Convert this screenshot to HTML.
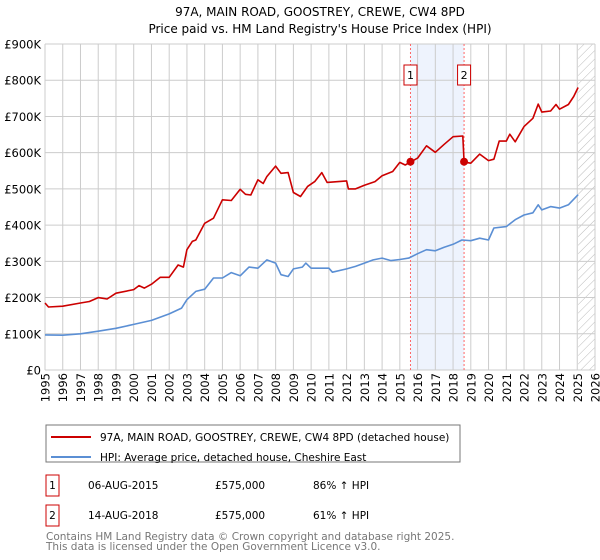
<!DOCTYPE html>
<html><head><meta charset="utf-8"><style>
body{margin:0;background:#fff;font-family:"DejaVu Sans","Liberation Sans",sans-serif;}
#wrap{position:relative;width:600px;height:560px;overflow:hidden}
</style></head><body><div id="wrap">
<svg id="chart" width="600" height="560" xmlns="http://www.w3.org/2000/svg" font-family="DejaVu Sans, Liberation Sans, sans-serif">
<text x="320" y="16" text-anchor="middle" font-size="12" fill="#000">97A, MAIN ROAD, GOOSTREY, CREWE, CW4 8PD</text>
<text x="320" y="33" text-anchor="middle" font-size="12" fill="#000">Price paid vs. HM Land Registry's House Price Index (HPI)</text>
<defs><pattern id="hatch" width="6" height="6" patternUnits="userSpaceOnUse" patternTransform="rotate(45)"><line x1="0" y1="0" x2="0" y2="6" stroke="#bbb" stroke-width="1"/></pattern></defs>
<g id="grid"></g><g id="marks"></g><g id="axes"></g>
<g>
<rect x="46" y="425" width="414" height="37" fill="#fff" stroke="#777"/>
<line x1="51" y1="437" x2="91" y2="437" stroke="#cc0000" stroke-width="2"/>
<text x="100" y="441" font-size="10.5">97A, MAIN ROAD, GOOSTREY, CREWE, CW4 8PD (detached house)</text>
<line x1="51" y1="457" x2="91" y2="457" stroke="#5b8fd4" stroke-width="2"/>
<text x="100" y="461" font-size="10.5">HPI: Average price, detached house, Cheshire East</text>
</g>
<g font-size="10.5">
<rect x="46" y="475" width="13" height="21" fill="#fff" stroke="#cc0000"/>
<text x="52.5" y="489" text-anchor="middle">1</text>
<text x="88" y="489">06-AUG-2015</text>
<text x="215" y="489">£575,000</text>
<text x="313" y="489">86% ↑ HPI</text>
<rect x="46" y="505" width="13" height="21" fill="#fff" stroke="#cc0000"/>
<text x="52.5" y="519" text-anchor="middle">2</text>
<text x="88" y="519">14-AUG-2018</text>
<text x="215" y="519">£575,000</text>
<text x="313" y="519">61% ↑ HPI</text>
</g>
<text x="46" y="540" font-size="10.5" fill="#777">Contains HM Land Registry data © Crown copyright and database right 2025.</text>
<text x="46" y="550" font-size="10.5" fill="#777">This data is licensed under the Open Government Licence v3.0.</text>
</svg></div>
<script>
const yearTicks=[1995,1996,1997,1998,1999,2000,2001,2002,2003,2004,2005,2006,2007,2008,2009,2010,2011,2012,2013,2014,2015,2016,2017,2018,2019,2020,2021,2022,2023,2024,2025,2026];
const valueTicks=[0,100,200,300,400,500,600,700,800,900];
const valueLabels=["£0","£100K","£200K","£300K","£400K","£500K","£600K","£700K","£800K","£900K"];
const hpiYears=[1995,1996,1997,1998,1999,2000,2001,2002,2002.7,2003,2003.5,2004,2004.5,2005,2005.5,2006,2006.5,2007,2007.5,2008,2008.3,2008.7,2009,2009.5,2009.7,2010,2011,2011.2,2012,2012.5,2013,2013.5,2014,2014.5,2015,2015.5,2016,2016.5,2017,2017.5,2018,2018.5,2019,2019.5,2020,2020.3,2021,2021.5,2022,2022.5,2022.8,2023,2023.5,2024,2024.5,2025.05];
const hpiValues=[97,96,100,107,115,126,137,155,171,194,217,223,254,254,269,260,284,281,304,295,263,258,279,284,295,281,281,270,279,286,295,304,309,302,305,309,321,332,329,339,347,359,357,364,359,392,396,415,428,434,456,442,451,447,456,484];
const propYears=[1995,1995.2,1996,1997,1997.5,1998,1998.5,1999,2000,2000.3,2000.6,2001,2001.5,2002,2002.5,2002.8,2003,2003.3,2003.5,2004,2004.5,2005,2005.5,2006,2006.3,2006.6,2007,2007.3,2007.5,2008,2008.3,2008.7,2009,2009.4,2009.8,2010.2,2010.6,2010.9,2012,2012.1,2012.5,2013,2013.6,2014,2014.6,2015,2015.3,2015.6,2016,2016.5,2017,2017.5,2018,2018.55,2018.62,2019,2019.5,2020,2020.3,2020.6,2021,2021.2,2021.5,2022,2022.5,2022.8,2023,2023.5,2023.8,2024,2024.5,2024.8,2025.05];
const propValues=[185,174,176,185,189,200,196,212,222,233,226,237,256,256,290,284,332,355,359,405,419,470,468,499,485,483,525,515,534,563,543,545,490,479,507,520,545,518,522,500,500,510,520,536,548,573,566,574,585,619,601,623,644,646,574,571,596,578,582,632,632,651,630,672,695,734,712,715,733,720,733,755,780];
const saleYears=[2015.6,2018.62];
const saleValues=[575,575];
const saleLabels=["1","2"];
const NS="http://www.w3.org/2000/svg";
const L=45,R=595,T=44,B=370,X0=1995,X1=2026,VMAX=900;
const xs=y=>L+(y-X0)/(X1-X0)*(R-L);
const ys=v=>B-v/VMAX*(B-T);
function mk(tag,attrs,parent){const e=document.createElementNS(NS,tag);for(const k in attrs)e.setAttribute(k,attrs[k]);parent.appendChild(e);return e;}
const grid=document.getElementById('grid'),marks=document.getElementById('marks'),axes=document.getElementById('axes');
let band=mk('rect',{x:xs(saleYears[0]),y:T,width:xs(saleYears[1])-xs(saleYears[0]),height:B-T,fill:'#eef3fd'},grid);


let hatch=mk('rect',{x:xs(2025.05),y:T,width:R-xs(2025.05),height:B-T,fill:'url(#hatch)'},grid);


yearTicks.forEach(y=>{let l=mk('line',{x1:xs(y),x2:xs(y),y1:T,y2:B,stroke:'#cccccc','stroke-width':1},grid);


let t=mk('text',{x:0,y:0,'font-size':11.5,'text-anchor':'end',transform:`translate(${xs(y)+4.5},${B+3}) rotate(-90)`},axes);t.textContent=y;

});
valueTicks.forEach((v,i)=>{let l=mk('line',{x1:L,x2:R,y1:ys(v),y2:ys(v),stroke:'#cccccc','stroke-width':1},grid);


let t=mk('text',{x:L-4,y:ys(v)+4.5,'font-size':11.5,'text-anchor':'end'},axes);t.textContent=valueLabels[i];

});
saleYears.forEach((y,i)=>{let l=mk('line',{x1:xs(y),x2:xs(y),y1:T,y2:B,stroke:'#ff6666','stroke-width':1,'stroke-dasharray':'2,2'},grid);


let r=mk('rect',{x:xs(y)-6.5,y:65,width:13,height:20,fill:'#fff',stroke:'#cc0000'},grid);


let t=mk('text',{x:xs(y),y:79,'font-size':11,'text-anchor':'middle'},grid);t.textContent=saleLabels[i];

});
function line(xa,va,color,name){let d=xa.map((y,i)=>(i?'L':'M')+xs(y).toFixed(1)+','+ys(va[i]).toFixed(1)).join('');
let p=mk('path',{d:d,fill:'none',stroke:color,'stroke-width':1.6,'stroke-linejoin':'round'},marks);

}
line(hpiYears,hpiValues,'#5b8fd4','hpi-line');
line(propYears,propValues,'#cc0000','property-line');
saleYears.forEach((y,i)=>{let c=mk('circle',{cx:xs(y),cy:ys(saleValues[i]),r:4,fill:'#cc0000'},marks);

});
</script></body></html>
